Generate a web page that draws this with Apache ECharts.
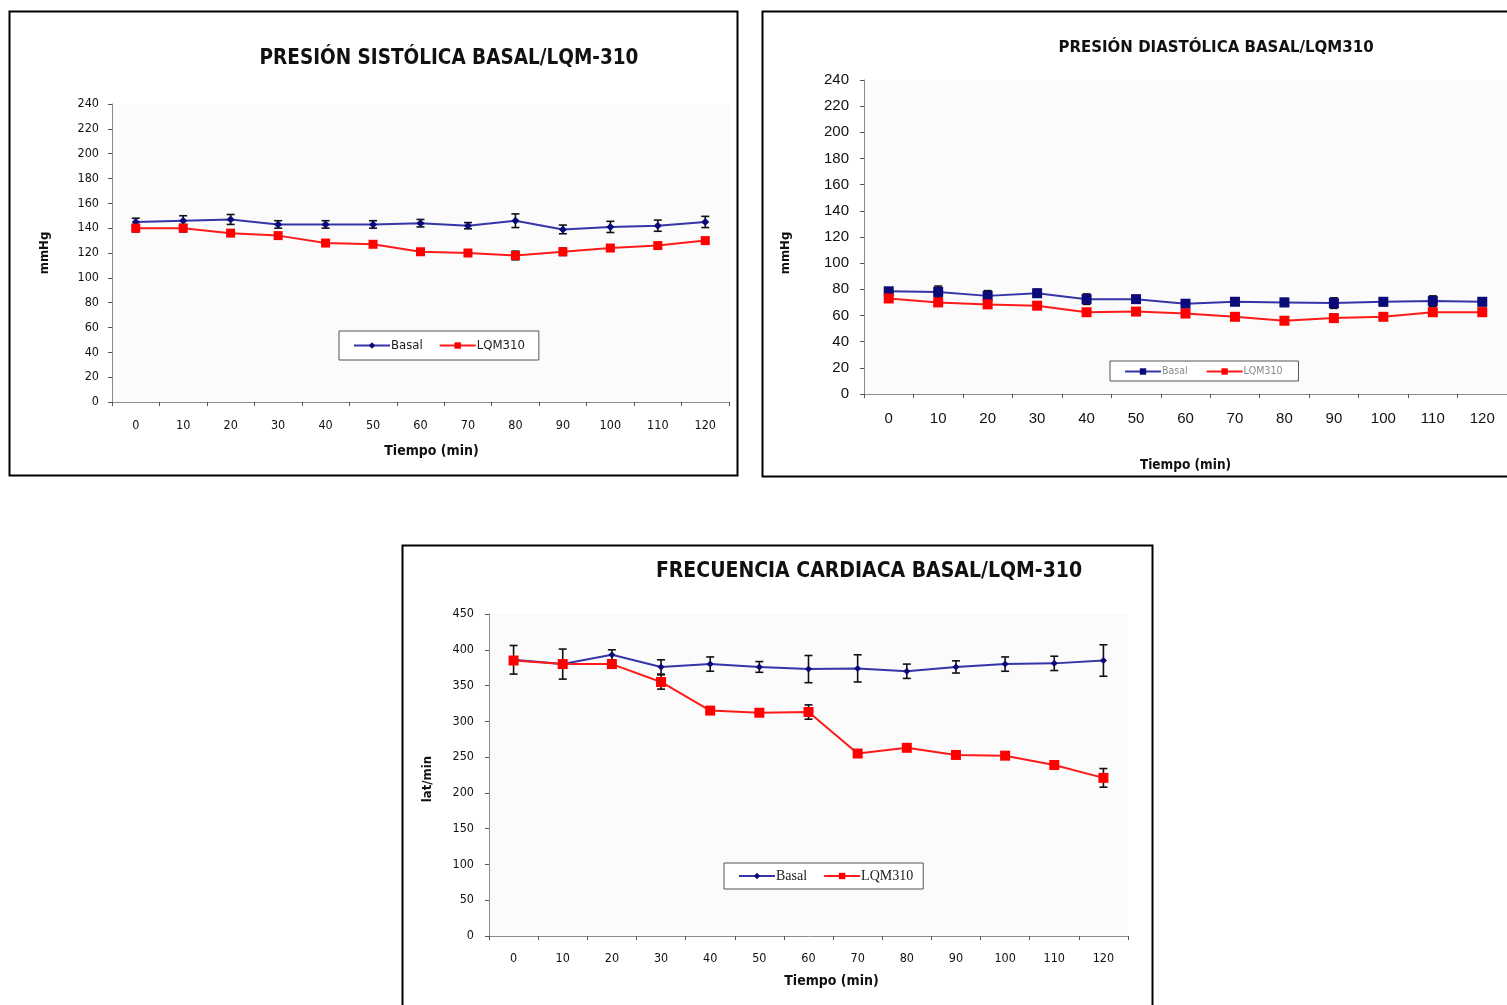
<!DOCTYPE html>
<html>
<head>
<meta charset="utf-8">
<title>Presión arterial y frecuencia cardiaca: Basal vs LQM310</title>
<script src="https://cdn.jsdelivr.net/npm/echarts@6/dist/echarts.min.js"></script>
<style>
  html, body { margin: 0; padding: 0; background: #ffffff; }
  #chart { width: 1507px; height: 1005px; }
</style>
</head>
<body>
<div id="chart"></div>
<script>
// Tiempo de registro (min)
const minutes = ['0', '10', '20', '30', '40', '50', '60', '70', '80', '90', '100', '110', '120'];

// Presión sistólica (mmHg): media y error estándar
const basalSist = [145, 146, 147, 143, 143, 143, 144, 142, 146, 139, 141, 142, 145];
const lqmSist = [140, 140, 136, 134, 128, 127, 121, 120, 118, 121, 124, 126, 130];
const basalSistErr = [3, 4, 4, 3, 3, 3, 3, 2.5, 5.5, 3.5, 4.5, 4.5, 4.5];
const lqmSistErr = [3, 3, 1.5, 2, 1.5, 1.5, 1.5, 1.5, 3.5, 3, 2.5, 2, 2];

// Presión diastólica (mmHg)
const basalDiast = [78.5, 78, 75, 77, 72.5, 72.5, 69, 70.5, 70, 69.5, 70.5, 71, 70.5];
const lqmDiast = [73, 70, 68.5, 67.5, 62.5, 63, 61.5, 59, 56, 58, 59, 62.5, 62.5];
const basalDiastErr = [2, 4.5, 4, 3, 4, 2.5, 2, 2, 3, 4, 3, 4, 3];
const lqmDiastErr = [2, 2, 2, 2, 1.5, 1.5, 1.5, 1.5, 2, 3, 2, 3, 3];

// Frecuencia cardiaca (lat/min)
const basalFrec = [386, 380, 393, 376, 380, 376, 373, 374, 370, 376, 380, 381, 385];
const lqmFrec = [385, 380, 380, 355, 315, 312, 313, 255, 263, 253, 252, 239, 221];
const basalFrecErr = [20, 21, 7, 10, 10, 7.5, 19, 19, 10, 8.5, 10, 10, 22];
const lqmFrecErr = [4, 4, 4, 10, 4, 4, 10, 5, 4, 4, 4, 4, 13];

const BLUE_LINE = '#3535a8';
const BLUE_MARK = '#0a0a78';
const RED = '#ff1a1a';

function errData(mean, err) {
  return mean.map((m, i) => [i, m - err[i], m + err[i]]);
}

// Barras de error (media ± EE) dibujadas sobre las escalas de cada panel
function errorBars(name, mean, err, idx, cap) {
  return {
    type: 'custom',
    name: name,
    xAxisIndex: idx,
    yAxisIndex: idx,
    z: 1,
    silent: true,
    encode: { x: 0, y: [1, 2] },
    data: errData(mean, err),
    renderItem: function (params, api) {
      const i = api.value(0);
      const lo = api.coord([i, api.value(1)]);
      const hi = api.coord([i, api.value(2)]);
      const st = { stroke: '#111', lineWidth: 1.6 };
      return {
        type: 'group',
        children: [
          { type: 'line', shape: { x1: lo[0], y1: lo[1], x2: hi[0], y2: hi[1] }, style: st },
          { type: 'line', shape: { x1: lo[0] - cap, y1: lo[1], x2: lo[0] + cap, y2: lo[1] }, style: st },
          { type: 'line', shape: { x1: hi[0] - cap, y1: hi[1], x2: hi[0] + cap, y2: hi[1] }, style: st }
        ]
      };
    }
  };
}

function lineSeries(name, data, idx, color, markColor, symbol, size) {
  return {
    type: 'line',
    name: name,
    xAxisIndex: idx,
    yAxisIndex: idx,
    z: 3,
    data: data,
    symbol: symbol,
    symbolSize: size,
    showAllSymbol: true,
    lineStyle: { color: color, width: 2 },
    itemStyle: { color: markColor, borderWidth: 0 },
    emphasis: { disabled: true },
    animation: false
  };
}

const axisGray = '#8c8c8c';

function xAxisCfg(idx, font, size, margin, nameGap, nameShift, nameSize) {
  return {
    type: 'category',
    gridIndex: idx,
    data: minutes,
    boundaryGap: true,
    axisLine: { lineStyle: { color: axisGray, width: 1 } },
    axisTick: { show: true, length: 4, lineStyle: { color: '#555' } },
    axisLabel: { color: '#111', fontFamily: font, fontSize: size, margin: margin },
    name: 'Tiempo (min)',
    nameLocation: 'middle',
    nameGap: nameGap,
    nameTextStyle: {
      color: '#111', fontFamily: 'DejaVu Sans Condensed', fontWeight: 'bold',
      fontSize: nameSize, padding: [0, 0, 0, nameShift]
    }
  };
}

function yAxisCfg(idx, max, interval, name, font, size, margin, nameGap, nameShift) {
  return {
    type: 'value',
    gridIndex: idx,
    min: 0,
    max: max,
    interval: interval,
    splitLine: { show: false },
    axisLine: { show: true, lineStyle: { color: axisGray, width: 1 } },
    axisTick: { show: true, length: 4, lineStyle: { color: '#555' } },
    axisLabel: { color: '#111', fontFamily: font, fontSize: size, margin: margin },
    name: name,
    nameLocation: 'middle',
    nameRotate: 90,
    nameGap: nameGap,
    nameTextStyle: {
      color: '#111', fontFamily: 'DejaVu Sans Condensed', fontWeight: 'bold', fontSize: 13,
      padding: [0, nameShift, 0, 0]
    }
  };
}

function legendCfg(left, top, names, font, size, color, pad, gap, iw, ih) {
  return {
    left: left,
    top: top,
    orient: 'horizontal',
    data: names,
    formatter: n => n.split(' ')[0],
    borderColor: '#555',
    borderWidth: 1,
    backgroundColor: '#ffffff',
    padding: pad,
    itemGap: gap,
    itemWidth: iw,
    itemHeight: ih,
    selectedMode: false,
    textStyle: { fontFamily: font, fontSize: size, color: color, padding: [0, 0, 0, -4] }
  };
}

const chart = echarts.init(document.getElementById('chart'), null, { renderer: 'canvas' });

const option = {
  animation: false,
  backgroundColor: '#ffffff',
  title: [
    {
      text: 'PRESIÓN SISTÓLICA BASAL/LQM-310', left: 444, top: 43, textAlign: 'center',
      textStyle: { fontFamily: 'DejaVu Sans Condensed', fontWeight: 'bold', fontSize: 20.5, color: '#111' }
    },
    {
      text: 'PRESIÓN DIASTÓLICA BASAL/LQM310', left: 1211, top: 36, textAlign: 'center',
      textStyle: { fontFamily: 'DejaVu Sans', fontWeight: 'bold', fontSize: 15, color: '#111' }
    },
    {
      text: 'FRECUENCIA CARDIACA BASAL/LQM-310', left: 864, top: 556, textAlign: 'center',
      textStyle: { fontFamily: 'DejaVu Sans Condensed', fontWeight: 'bold', fontSize: 21, color: '#111' }
    }
  ],
  graphic: [
    { type: 'rect', shape: { x: 9.5, y: 11.5, width: 728, height: 464 }, style: { fill: null, stroke: '#000', lineWidth: 2 }, z: 10 },
    { type: 'rect', shape: { x: 762.5, y: 11.5, width: 760, height: 465 }, style: { fill: null, stroke: '#000', lineWidth: 2 }, z: 10 },
    { type: 'rect', shape: { x: 402.5, y: 545.5, width: 750, height: 480 }, style: { fill: null, stroke: '#000', lineWidth: 2 }, z: 10 }
  ],
  grid: [
    { left: 112, top: 104, width: 617, height: 298, containLabel: false, show: true, backgroundColor: '#fbfbfb', borderWidth: 0 },
    { left: 864, top: 80, width: 649, height: 314, containLabel: false, show: true, backgroundColor: '#fbfbfb', borderWidth: 0 },
    { left: 489, top: 614, width: 639, height: 322, containLabel: false, show: true, backgroundColor: '#fbfbfb', borderWidth: 0 }
  ],
  xAxis: [
    xAxisCfg(0, 'DejaVu Sans Condensed', 12.5, 17, 42, 22, 14),
    xAxisCfg(1, 'Liberation Sans', 15, 17, 64, 0, 13.5),
    xAxisCfg(2, 'DejaVu Sans Condensed', 12.5, 16, 38, 46, 14)
  ],
  yAxis: [
    yAxisCfg(0, 240, 20, 'mmHg', 'DejaVu Sans Condensed', 12.5, 13, 61, 0),
    yAxisCfg(1, 240, 20, 'mmHg', 'Liberation Sans', 15, 15, 72, 32),
    yAxisCfg(2, 450, 50, 'lat/min', 'DejaVu Sans Condensed', 12.5, 15, 55, 8)
  ],
  legend: [
    legendCfg(339, 331, ['Basal sistólica', 'LQM310 sistólica'], 'DejaVu Sans Condensed', 13, '#222', [8, 14, 8, 14], 16, 36, 8),
    legendCfg(1110, 361, ['Basal diastólica', 'LQM310 diastólica'], 'DejaVu Sans Condensed', 10.5, '#888', [5, 16, 4, 14], 18, 36, 8),
    legendCfg(724, 863, ['Basal frecuencia', 'LQM310 frecuencia'], 'Liberation Serif', 14, '#222', [6, 10, 6, 14], 16, 36, 8)
  ],
  series: [
    errorBars('err basal sistólica', basalSist, basalSistErr, 0, 4),
    errorBars('err lqm sistólica', lqmSist, lqmSistErr, 0, 4),
    lineSeries('Basal sistólica', basalSist, 0, BLUE_LINE, BLUE_MARK, 'diamond', 8),
    lineSeries('LQM310 sistólica', lqmSist, 0, RED, '#ff0000', 'rect', 9),

    errorBars('err basal diastólica', basalDiast, basalDiastErr, 1, 4),
    errorBars('err lqm diastólica', lqmDiast, lqmDiastErr, 1, 4),
    lineSeries('Basal diastólica', basalDiast, 1, BLUE_LINE, BLUE_MARK, 'rect', 10),
    lineSeries('LQM310 diastólica', lqmDiast, 1, RED, '#ff0000', 'rect', 10),

    errorBars('err basal frecuencia', basalFrec, basalFrecErr, 2, 4),
    errorBars('err lqm frecuencia', lqmFrec, lqmFrecErr, 2, 4),
    lineSeries('Basal frecuencia', basalFrec, 2, BLUE_LINE, BLUE_MARK, 'diamond', 7),
    lineSeries('LQM310 frecuencia', lqmFrec, 2, RED, '#ff0000', 'rect', 10)
  ]
};

chart.setOption(option);
</script>
</body>
</html>
